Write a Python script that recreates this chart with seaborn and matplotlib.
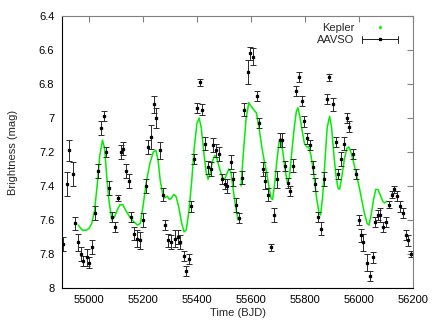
import numpy as np
import pandas as pd
import matplotlib
matplotlib.use("Agg")
import matplotlib.pyplot as plt
from matplotlib.lines import Line2D
from matplotlib.legend_handler import HandlerBase
import seaborn as sns

# Kepler light curve, gap near 55558
kepler_t = [54960, 54975, 54990, 55000, 55010, 55020, 55030, 55040, 55050, 55058,
            55066, 55075, 55085, 55095, 55105, 55115, 55125, 55135, 55150, 55165,
            55180, 55190, 55200, 55212, 55225, 55238, 55248, 55256, 55264, 55272,
            55280, 55290, 55298, 55306, 55314, 55322, 55332, 55342, 55352, 55360,
            55370, 55380, 55390, 55400, 55408, 55416, 55425, 55434, 55441, 55448,
            55458, 55466, 55474, 55484, 55494, 55503, 55510, 55518, 55526, 55534,
            55544, 55552,
            55563, 55572, 55582, 55592, 55600, 55610, 55620, 55630, 55640, 55650,
            55658, 55666, 55674, 55680, 55688, 55696, 55704, 55710, 55718, 55726,
            55735, 55742, 55750, 55760, 55768, 55774, 55782, 55790, 55798, 55806,
            55814, 55822, 55832, 55842, 55852, 55858, 55866, 55874, 55882, 55891,
            55898, 55906, 55914, 55922, 55928, 55936, 55946, 55955, 55962, 55970,
            55980, 55990, 56000, 56010, 56020, 56030, 56037, 56045, 56054, 56062,
            56070, 56078, 56088, 56096, 56102]
kepler_mag = [7.63, 7.66, 7.66, 7.65, 7.62, 7.55, 7.40, 7.22, 7.13, 7.18,
              7.35, 7.50, 7.60, 7.58, 7.54, 7.51, 7.51, 7.54, 7.58, 7.61,
              7.63, 7.62, 7.52, 7.38, 7.27, 7.20, 7.19, 7.25, 7.37, 7.44,
              7.47, 7.46, 7.48, 7.47, 7.45, 7.46, 7.52, 7.61, 7.67, 7.66,
              7.55, 7.38, 7.17, 7.03, 7.00, 7.06, 7.20, 7.32, 7.36, 7.33,
              7.25, 7.22, 7.24, 7.30, 7.35, 7.36, 7.33, 7.30, 7.32, 7.42,
              7.53, 7.60,
              7.40, 7.20, 7.00, 6.91, 6.93, 6.95, 6.97, 7.06, 7.17, 7.26,
              7.32, 7.40, 7.47, 7.48, 7.38, 7.25, 7.14, 7.12, 7.20, 7.30,
              7.38, 7.35, 7.22, 7.06, 6.96, 6.94, 7.00, 7.08, 7.15, 7.17,
              7.17, 7.22, 7.32, 7.46, 7.56, 7.57, 7.45, 7.25, 7.06, 6.99,
              7.05, 7.20, 7.33, 7.41, 7.42, 7.35, 7.24, 7.18, 7.17, 7.20,
              7.26, 7.33, 7.40, 7.48, 7.56, 7.62, 7.63, 7.57, 7.48, 7.42,
              7.42, 7.45, 7.49, 7.50, 7.49]

# AAVSO visual estimates with error bars
aavso_t = [54905, 54917, 54927, 54940, 54949, 54960, 54969, 54979, 54991, 55001,
           55012, 55022, 55034, 55044, 55054, 55064, 55075, 55086, 55096, 55106,
           55117, 55126, 55137, 55147, 55156, 55167, 55179, 55189, 55199, 55210,
           55220, 55228, 55242, 55249, 55262, 55273, 55283, 55293, 55305, 55317,
           55328, 55338, 55351, 55360, 55371, 55379, 55390, 55400, 55411, 55420,
           55430, 55441, 55452, 55460, 55471, 55480, 55493, 55504, 55512, 55525,
           55534, 55544, 55557, 55565, 55575, 55588, 55597, 55606, 55621, 55628,
           55643, 55653, 55664, 55674, 55686, 55695, 55706, 55714, 55726, 55736,
           55746, 55757, 55768, 55777, 55788, 55797, 55807, 55819, 55829, 55837,
           55849, 55860, 55870, 55883, 55890, 55904, 55914, 55922, 55932, 55944,
           55956, 55964, 55977, 55990, 55999, 56007, 56016, 56028, 56040, 56051,
           56059, 56070, 56079, 56090, 56100, 56111, 56121, 56131, 56139, 56152,
           56162, 56173, 56183, 56193]
aavso_mag = [7.74, 7.39, 7.19, 7.33, 7.62, 7.73, 7.80, 7.84, 7.82, 7.85,
             7.76, 7.56, 7.31, 7.06, 6.99, 7.20, 7.41, 7.58, 7.64, 7.47,
             7.20, 7.18, 7.31, 7.37, 7.58, 7.68, 7.71, 7.72, 7.60, 7.40,
             7.17, 7.11, 6.92, 7.00, 7.19, 7.45, 7.63, 7.72, 7.73, 7.71,
             7.70, 7.73, 7.81, 7.90, 7.83, 7.52, 7.24, 6.94, 6.79, 6.95,
             7.15, 7.29, 7.30, 7.16, 7.19, 7.21, 7.36, 7.39, 7.40, 7.26,
             7.36, 7.51, 7.59, 7.35, 6.95, 6.73, 6.62, 6.64, 6.87, 7.03,
             7.30, 7.37, 7.45, 7.76, 7.57, 7.36, 7.13, 7.13, 7.28, 7.38,
             7.43, 7.28, 6.84, 6.76, 6.90, 7.02, 7.12, 7.16, 7.29, 7.39,
             7.58, 7.65, 7.36, 6.89, 6.76, 6.92, 7.14, 7.33, 7.24, 7.15,
             7.00, 7.05, 7.21, 7.33, 7.60, 7.69, 7.73, 7.85, 7.93, 7.82,
             7.61, 7.57, 7.57, 7.64, 7.61, 7.51, 7.45, 7.42, 7.46, 7.52,
             7.56, 7.69, 7.72, 7.80]
aavso_err = [0.04, 0.07, 0.06, 0.07, 0.04, 0.05, 0.04, 0.03, 0.05, 0.03,
             0.04, 0.04, 0.04, 0.04, 0.03, 0.03, 0.04, 0.03, 0.03, 0.02,
             0.04, 0.04, 0.04, 0.04, 0.03, 0.04, 0.05, 0.05, 0.04, 0.04,
             0.04, 0.07, 0.05, 0.06, 0.05, 0.04, 0.03, 0.04, 0.04, 0.05,
             0.04, 0.04, 0.03, 0.03, 0.03, 0.03, 0.03, 0.03, 0.02, 0.03,
             0.04, 0.04, 0.04, 0.04, 0.04, 0.04, 0.03, 0.03, 0.04, 0.04,
             0.04, 0.04, 0.03, 0.04, 0.04, 0.07, 0.04, 0.05, 0.03, 0.03,
             0.04, 0.05, 0.04, 0.02, 0.04, 0.05, 0.04, 0.04, 0.03, 0.03,
             0.03, 0.04, 0.03, 0.03, 0.03, 0.03, 0.03, 0.03, 0.04, 0.04,
             0.03, 0.04, 0.04, 0.03, 0.02, 0.04, 0.03, 0.03, 0.04, 0.04,
             0.03, 0.03, 0.03, 0.03, 0.03, 0.04, 0.05, 0.05, 0.03, 0.03,
             0.03, 0.03, 0.04, 0.03, 0.03, 0.02, 0.02, 0.02, 0.03, 0.03,
             0.03, 0.03, 0.03, 0.02]

x_ticks = [55000, 55200, 55400, 55600, 55800, 56000, 56200]
y_ticks = [6.4, 6.6, 6.8, 7.0, 7.2, 7.4, 7.6, 7.8, 8.0]
y_tick_labels = ["6.4", "6.6", "6.8", "7", "7.2", "7.4", "7.6", "7.8", "8"]

sns.set_theme(style="white")
plt.rcParams['font.family'] = ['Liberation Sans', 'DejaVu Sans']
plt.rcParams['font.size'] = 8


class HandlerErrbar(HandlerBase):
    # gnuplot style key: horizontal bar with end caps and a dot
    def create_artists(self, legend, orig_handle, xdescent, ydescent,
                       width, height, fontsize, trans):
        y = height / 2 - ydescent
        x0, x1 = -xdescent, width - xdescent
        c = 2.5
        arts = [Line2D([x0, x1], [y, y], color="#222222", lw=0.7),
                Line2D([x0, x0], [y - c, y + c], color="#222222", lw=0.7),
                Line2D([x1, x1], [y - c, y + c], color="#222222", lw=0.7),
                Line2D([(x0 + x1) / 2], [y], marker="s", ms=1.4, color="black", ls="")]
        for a in arts:
            a.set_transform(trans)
        return arts


kep = pd.DataFrame({"t": kepler_t, "mag": kepler_mag})
kep["seg"] = (kep["t"] > 55558).astype(int)

fig = plt.figure(figsize=(4.36, 3.29), dpi=100)
ax = fig.add_axes([62 / 436, 1 - 288 / 329, 351 / 436, 272 / 329])

sns.lineplot(data=kep, x="t", y="mag", units="seg", estimator=None,
             color="#00ee00", linewidth=1.1, ax=ax)
ax.errorbar(aavso_t, aavso_mag, yerr=aavso_err, fmt="s", ms=1.4,
            color="black", ecolor="#2a2a2a", elinewidth=0.7, capsize=2.5,
            capthick=0.7)

ax.set_xlim(54900, 56200)
ax.set_ylim(8, 6.4)
ax.set_xticks(x_ticks)
ax.set_yticks(y_ticks)
ax.set_yticklabels(y_tick_labels)
ax.tick_params(direction="in", length=4, width=0.8, color="#808080",
               top=True, right=True, labelsize=8, labelcolor="black")
ax.tick_params(axis="y", pad=5.5)
ax.tick_params(axis="x", pad=5)
for side in ["top", "right"]:
    ax.spines[side].set_color("#808080")
for side in ["left", "bottom"]:
    ax.spines[side].set_color("black")
for s in ax.spines.values():
    s.set_linewidth(0.8)

ax.set_xlabel("Time (BJD)", fontsize=8)
ax.set_ylabel("Brightness (mag)", fontsize=8)
ax.xaxis.set_label_coords(0.5, -0.075)
ax.yaxis.set_label_coords(-0.124, 0.5)

kep_key = Line2D([], [], marker="s", ms=1, color="#00ee00", ls="")
aav_key = Line2D([], [], color="black")
ax.legend([kep_key, aav_key], ["Kepler", "AAVSO"], loc="upper right",
          bbox_to_anchor=(0.957, 0.975), frameon=False, markerfirst=False,
          numpoints=1, handlelength=3.25, handletextpad=0.7,
          labelspacing=0.2, borderpad=0, borderaxespad=0, fontsize=8,
          handler_map={aav_key: HandlerErrbar()})

fig.savefig("out.png", dpi=100)
